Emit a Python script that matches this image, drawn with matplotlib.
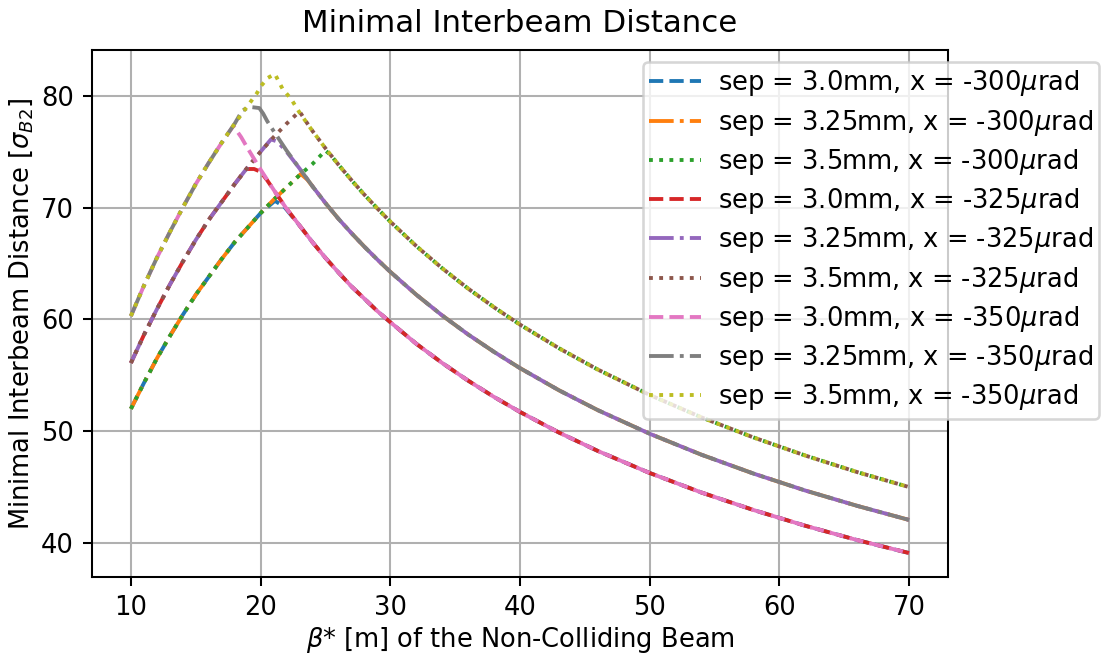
import matplotlib
matplotlib.use("Agg")
import matplotlib.pyplot as plt

# falling branch, only depends on the separation
tail_x = [24, 25, 26, 27, 28, 29, 30, 32, 34, 36, 38, 40, 43, 46, 50, 54, 58, 62, 66, 70]
tail_30 = [66.9, 65.5, 64.2, 62.95, 61.85, 60.74, 59.75, 57.82, 56.1, 54.52, 53.06, 51.72,
           49.88, 48.23, 46.26, 44.51, 42.95, 41.54, 40.26, 39.1]
tail_325 = [71.9, 70.4, 69.0, 67.72, 66.5, 65.35, 64.25, 62.21, 60.35, 58.65, 57.09, 55.64,
            53.66, 51.88, 49.77, 47.89, 46.21, 44.69, 43.32, 42.06]
tail_35 = [76.85, 75.3, 73.84, 72.46, 71.15, 69.92, 68.74, 66.56, 64.57, 62.75, 61.08, 59.53,
           57.42, 55.51, 53.24, 51.23, 49.44, 47.82, 46.34, 45.0]

# rising branch + peak, per curve
b_x = [10, 11, 12, 13, 14, 15, 16, 17, 18, 19, 20, 21.1, 21.8, 23]
b_y = [52.0, 54.3, 56.5, 58.5, 60.4, 62.2, 63.8, 65.4, 66.9, 68.2, 69.5, 70.6, 70.1, 68.4]
o_x = [10, 11, 12, 13, 14, 15, 16, 17, 18, 19, 20, 21, 22, 23.1, 23.6]
o_y = [52.0, 54.3, 56.5, 58.5, 60.4, 62.2, 63.8, 65.4, 66.9, 68.2, 69.5, 70.7, 71.8, 73.0, 72.5]
g_x = [10, 11, 12, 13, 14, 15, 16, 17, 18, 19, 20, 21, 22, 23, 24, 25.0, 25.4]
g_y = [52.0, 54.3, 56.5, 58.5, 60.4, 62.2, 63.8, 65.4, 66.9, 68.2, 69.5, 70.7, 71.8, 72.9, 73.9, 75.1, 74.7]
r_x = [10, 11, 12, 13, 14, 15, 16, 17, 18, 18.9, 19.5, 20.0, 20.5, 21, 22, 23]
r_y = [56.1, 58.6, 60.9, 63.1, 65.15, 67.1, 68.9, 70.5, 72.1, 73.45, 73.45, 73.2, 72.45, 71.6, 69.9, 68.4]
pu_x = [10, 11, 12, 13, 14, 15, 16, 17, 18, 19, 20, 20.8, 21.3, 22, 23]
pu_y = [56.1, 58.6, 60.9, 63.1, 65.15, 67.1, 68.9, 70.5, 72.1, 73.6, 75.0, 76.1, 75.9, 75.0, 73.5]
br_x = [10, 11, 12, 13, 14, 15, 16, 17, 18, 19, 20, 21, 22, 23, 23.5]
br_y = [56.1, 58.6, 60.9, 63.1, 65.15, 67.1, 68.9, 70.5, 72.1, 73.6, 75.0, 76.3, 77.5, 78.6, 77.7]
pk_x = [10, 11, 12, 13, 14, 15, 16, 17, 17.9, 18.5, 19, 20, 21, 22, 23]
pk_y = [60.3, 63.0, 65.5, 67.8, 70.0, 72.1, 74.0, 75.8, 77.3, 76.3, 75.3, 73.4, 71.6, 69.9, 68.4]
gr_x = [10, 11, 12, 13, 14, 15, 16, 17, 18, 18.6, 19.2, 19.9, 20.2, 20.5, 20.8, 22, 23]
gr_y = [60.3, 63.0, 65.5, 67.8, 70.0, 72.1, 74.0, 75.8, 77.5, 78.7, 79.0, 78.9, 78.4, 77.75, 77.2, 75.1, 73.5]
y_x = [10, 11, 12, 13, 14, 15, 16, 17, 18, 19, 19.7, 20.05, 20.56, 21.1, 21.7, 22.36, 23]
y_y = [60.3, 63.0, 65.5, 67.8, 70.0, 72.1, 74.0, 75.8, 77.5, 79.1, 80.2, 80.9, 81.6, 81.95, 80.6, 79.7, 78.5]

curves = [
    (b_x + tail_x, b_y + tail_30, "3.0", "300"),
    (o_x + tail_x, o_y + tail_325, "3.25", "300"),
    (g_x + tail_x[2:], g_y + tail_35[2:], "3.5", "300"),
    (r_x + tail_x, r_y + tail_30, "3.0", "325"),
    (pu_x + tail_x, pu_y + tail_325, "3.25", "325"),
    (br_x + tail_x, br_y + tail_35, "3.5", "325"),
    (pk_x + tail_x, pk_y + tail_30, "3.0", "350"),
    (gr_x + tail_x, gr_y + tail_325, "3.25", "350"),
    (y_x + tail_x, y_y + tail_35, "3.5", "350"),
]
styles = ["--", "-.", ":"]

DPI = 185
fig = plt.figure(figsize=(1114 / DPI, 662 / DPI), dpi=DPI)
ax = fig.add_axes([92 / 1114, 1 - 577 / 662, (948 - 92) / 1114, (577 - 50) / 662])

for i, (xs, ys, sep, ang) in enumerate(curves):
    ax.plot(xs, ys, linestyle=styles[i % 3], color="C%d" % i,
            label="sep = %smm, x = -%s$\\mu$rad" % (sep, ang))

ax.grid(True)
ax.set_title("Minimal Interbeam Distance", pad=7)
ax.set_xlabel("$\\beta$* [m] of the Non-Colliding Beam", labelpad=1.5)
ax.set_ylabel("Minimal Interbeam Distance [$\\sigma_{B2}$]", labelpad=2.5)
ax.legend(loc="upper left", bbox_to_anchor=(643 / 1114, 1 - 62 / 662),
          bbox_transform=fig.transFigure, borderaxespad=0,
          labelspacing=0.36, borderpad=0.25, handletextpad=0.65)

fig.savefig("out.png", dpi=DPI)
